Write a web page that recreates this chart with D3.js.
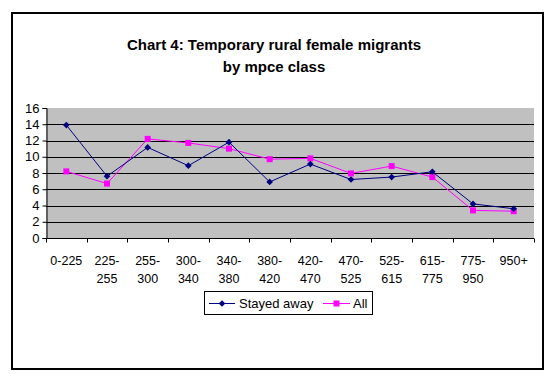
<!DOCTYPE html>
<html>
<head>
<meta charset="utf-8">
<script src="https://cdn.jsdelivr.net/npm/d3@7"></script>
<style>
  body { margin: 0; background: #fff; }
  svg { display: block; }
</style>
</head>
<body>
<svg id="root"></svg>
<script>
const categories = ["0-225", "225-255", "255-300", "300-340", "340-380", "380-420", "420-470", "470-525", "525-615", "615-775", "775-950", "950+"];
const stayedAway = [13.9, 7.6, 11.15, 8.9, 11.8, 6.9, 9.1, 7.2, 7.5, 8.15, 4.2, 3.6];
const allMigrants = [8.2, 6.7, 12.2, 11.7, 11.0, 9.7, 9.8, 7.95, 8.85, 7.5, 3.4, 3.3];
const yTicks = [0, 2, 4, 6, 8, 10, 12, 14, 16];

const width = 556, height = 387;
const plot = { left: 46, right: 534, top: 108, bottom: 238 };
const font = "Liberation Sans, Arial, sans-serif";

const svg = d3.select("svg#root").attr("width", width).attr("height", height);

// outer frame
svg.append("rect")
  .attr("x", 12).attr("y", 13).attr("width", 531).attr("height", 356)
  .attr("fill", "#fff").attr("stroke", "#000").attr("stroke-width", 2);

// title
const title = svg.append("text")
  .attr("text-anchor", "middle")
  .attr("font-family", font)
  .attr("font-size", "15px")
  .attr("font-weight", "bold");
title.append("tspan").attr("x", 274).attr("y", 50).text("Chart 4: Temporary rural female migrants");
title.append("tspan").attr("x", 274).attr("y", 72).text("by mpce class");

const x = d3.scaleBand().domain(categories).range([plot.left, plot.right]);
const y = d3.scaleLinear().domain([0, 16]).range([plot.bottom, plot.top]);

svg.append("rect")
  .attr("x", plot.left).attr("y", plot.top)
  .attr("width", plot.right - plot.left).attr("height", plot.bottom - plot.top)
  .attr("fill", "#c0c0c0");

// gridlines
svg.append("g")
  .selectAll("line")
  .data(yTicks.filter((d) => d > 0 && d < 16))
  .join("line")
  .attr("x1", plot.left).attr("x2", plot.right)
  .attr("y1", (d) => Math.round(y(d)) + 0.5).attr("y2", (d) => Math.round(y(d)) + 0.5)
  .attr("stroke", "#000").attr("stroke-width", 1);

// y axis
const yAxis = svg.append("g")
  .attr("transform", `translate(${plot.left + 0.5},0)`)
  .call(d3.axisLeft(y).tickValues(yTicks).tickSize(4).tickPadding(3).tickFormat(d3.format("d")));
yAxis.selectAll("path, line").attr("stroke", "#000");
yAxis.selectAll("text").attr("font-family", font).attr("font-size", "13px").attr("fill", "#000");

// x axis
const xAxis = svg.append("g")
  .attr("transform", `translate(0,${plot.bottom + 0.5})`);
xAxis.append("line")
  .attr("x1", plot.left).attr("x2", plot.right)
  .attr("stroke", "#000");
xAxis.selectAll(".tick")
  .data(d3.range(categories.length + 1))
  .join("line")
  .attr("class", "tick")
  .attr("x1", (i) => Math.round(plot.left + i * x.step()) + 0.5)
  .attr("x2", (i) => Math.round(plot.left + i * x.step()) + 0.5)
  .attr("y1", 0).attr("y2", 4)
  .attr("stroke", "#000");

const labels = xAxis.selectAll(".lbl")
  .data(categories)
  .join("text")
  .attr("class", "lbl")
  .attr("text-anchor", "middle")
  .attr("font-family", font)
  .attr("font-size", "12.5px")
  .attr("fill", "#000");
labels.each(function (d) {
  const t = d3.select(this);
  const cx = x(d) + x.bandwidth() / 2;
  const parts = d.includes("-") && d !== "0-225" ? [d.split("-")[0] + "-", d.split("-")[1]] : [d];
  parts.forEach((p, i) => {
    t.append("tspan").attr("x", cx).attr("y", 26 + i * 18).text(p);
  });
});

const line = d3.line()
  .x((d, i) => x(categories[i]) + x.bandwidth() / 2)
  .y((d) => y(d));

const series = [
  { name: "Stayed away", values: stayedAway, color: "#000080", size: 22, rotate: 45 },
  { name: "All", values: allMigrants, color: "#ff00ff", size: 36, rotate: 0 },
];

for (const s of series.slice().reverse()) {
  svg.append("path")
    .datum(s.values)
    .attr("fill", "none")
    .attr("stroke", s.color)
    .attr("stroke-width", 1)
    .attr("d", line);
  svg.append("g")
    .selectAll("path")
    .data(s.values)
    .join("path")
    .attr("transform", (d, i) => `translate(${x(categories[i]) + x.bandwidth() / 2},${y(d)}) rotate(${s.rotate})`)
    .attr("d", d3.symbol(d3.symbolSquare, s.size))
    .attr("fill", s.color);
}

// legend
const legend = svg.append("g");
legend.append("rect")
  .attr("x", 204.5).attr("y", 291.5).attr("width", 168).attr("height", 23)
  .attr("fill", "#fff").attr("stroke", "#000");
const legendPos = [{ x0: 209, x1: 235, tx: 239 }, { x0: 323, x1: 350, tx: 353 }];
series.forEach((s, i) => {
  const p = legendPos[i];
  legend.append("line")
    .attr("x1", p.x0).attr("x2", p.x1).attr("y1", 303.5).attr("y2", 303.5)
    .attr("stroke", s.color);
  legend.append("path")
    .attr("transform", `translate(${(p.x0 + p.x1) / 2},303.5) rotate(${s.rotate})`)
    .attr("d", d3.symbol(d3.symbolSquare, s.size))
    .attr("fill", s.color);
  legend.append("text")
    .attr("x", p.tx).attr("y", 308)
    .attr("font-family", font).attr("font-size", "13px")
    .text(s.name);
});
</script>
</body>
</html>
